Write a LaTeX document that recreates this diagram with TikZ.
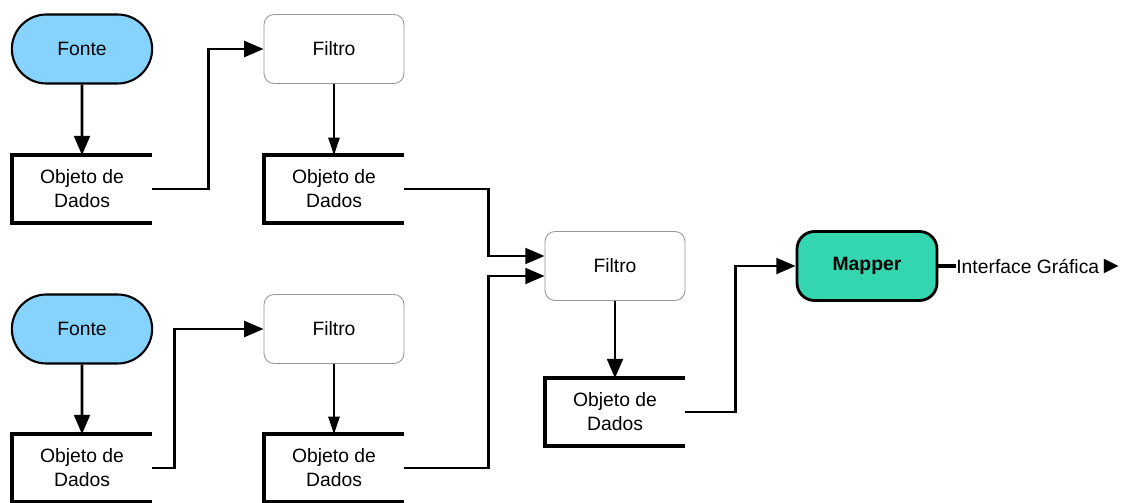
\documentclass[tikz,border=0pt]{standalone}
\usepackage{fontspec}
\setmainfont{Liberation Sans}
\usetikzlibrary{arrows.meta,shapes.misc}
\definecolor{fonteblue}{RGB}{135,211,255}
\definecolor{mappergreen}{RGB}{52,214,176}
\definecolor{filtrogray}{RGB}{150,150,150}

\tikzset{
  txt/.style={font=\fontsize{11}{13.6}\selectfont, align=center},
  fonte/.style={txt, rounded rectangle, draw=black, line width=1.2pt, fill=fonteblue,
    minimum width=3.04cm, minimum height=1.38cm},
  filtro/.style={txt, rectangle, rounded corners=0.2cm, draw=filtrogray, line width=0.5pt,
    minimum width=2.8cm, minimum height=1.38cm},
  mapper/.style={txt, rectangle, rounded corners=0.35cm, draw=black, line width=1.6pt,
    fill=mappergreen, minimum width=2.8cm, minimum height=1.38cm, font=\fontsize{11}{13.6}\selectfont\bfseries},
  dados/.style={txt, minimum width=2.8cm, minimum height=1.34cm, inner sep=0pt},
  conn/.style={line width=1.6pt, -{Triangle[length=11pt,width=9pt]}},
  thinconn/.style={line width=0.8pt, -{Triangle[length=10pt,width=6.5pt]}}
}

\begin{document}
\begin{tikzpicture}[x=0.02cm, y=-0.02cm]
    \useasboundingbox (0,0) rectangle (1127,503);

    % Upper branch
    \node[fonte] (fonteA) at (82,49) {Fonte};
    \node[dados] (dadosA) at (82,189) {Objeto de\\Dados};
    \node[filtro] (filtroA) at (334,49) {Filtro};
    \node[dados] (dadosB) at (334,189) {Objeto de\\Dados};

    % Lower branch
    \node[fonte] (fonteB) at (82,329) {Fonte};
    \node[dados] (dadosC) at (82,468) {Objeto de\\Dados};
    \node[filtro] (filtroB) at (334,329) {Filtro};
    \node[dados] (dadosD) at (334,468) {Objeto de\\Dados};

    % Merge and output
    \node[filtro] (filtroC) at (615,266) {Filtro};
    \node[dados] (dadosE) at (615,412) {Objeto de\\Dados};
    \node[mapper] (mapper) at (867,266) {Mapper};
    \node[txt, anchor=west, inner sep=0pt] (gui) at (956,266) {Interface Gráfica{\fontsize{14}{14}\selectfont ►}};

    % Data object brackets
    \foreach \d in {dadosA,dadosB,dadosC,dadosD,dadosE}
        \draw[line width=2.3pt] (\d.north east) -- (\d.north west) -- (\d.south west) -- (\d.south east);

    % Connectors
    \draw[conn] (fonteA) -- (dadosA);
    \draw[conn] (fonteB) -- (dadosC);
    \draw[conn] (dadosA.east) -- ++(56,0) |- (filtroA.west);
    \draw[conn] (dadosC.east) -- ++(22,0) |- (filtroB.west);
    \draw[thinconn] (filtroA) -- (dadosB);
    \draw[thinconn] (filtroB) -- (dadosD);
    \draw[conn] (dadosB.east) -- ++(84,0) |- ([yshift=0.2cm]filtroC.west);
    \draw[conn] (dadosD.east) -- ++(84,0) |- ([yshift=-0.2cm]filtroC.west);
    \draw[conn] (filtroC) -- (dadosE);
    \draw[conn] (dadosE.east) -- ++(50,0) |- (mapper.west);
    \draw[line width=2.2pt] (mapper.east) -- (gui.west);
\end{tikzpicture}
\end{document}
